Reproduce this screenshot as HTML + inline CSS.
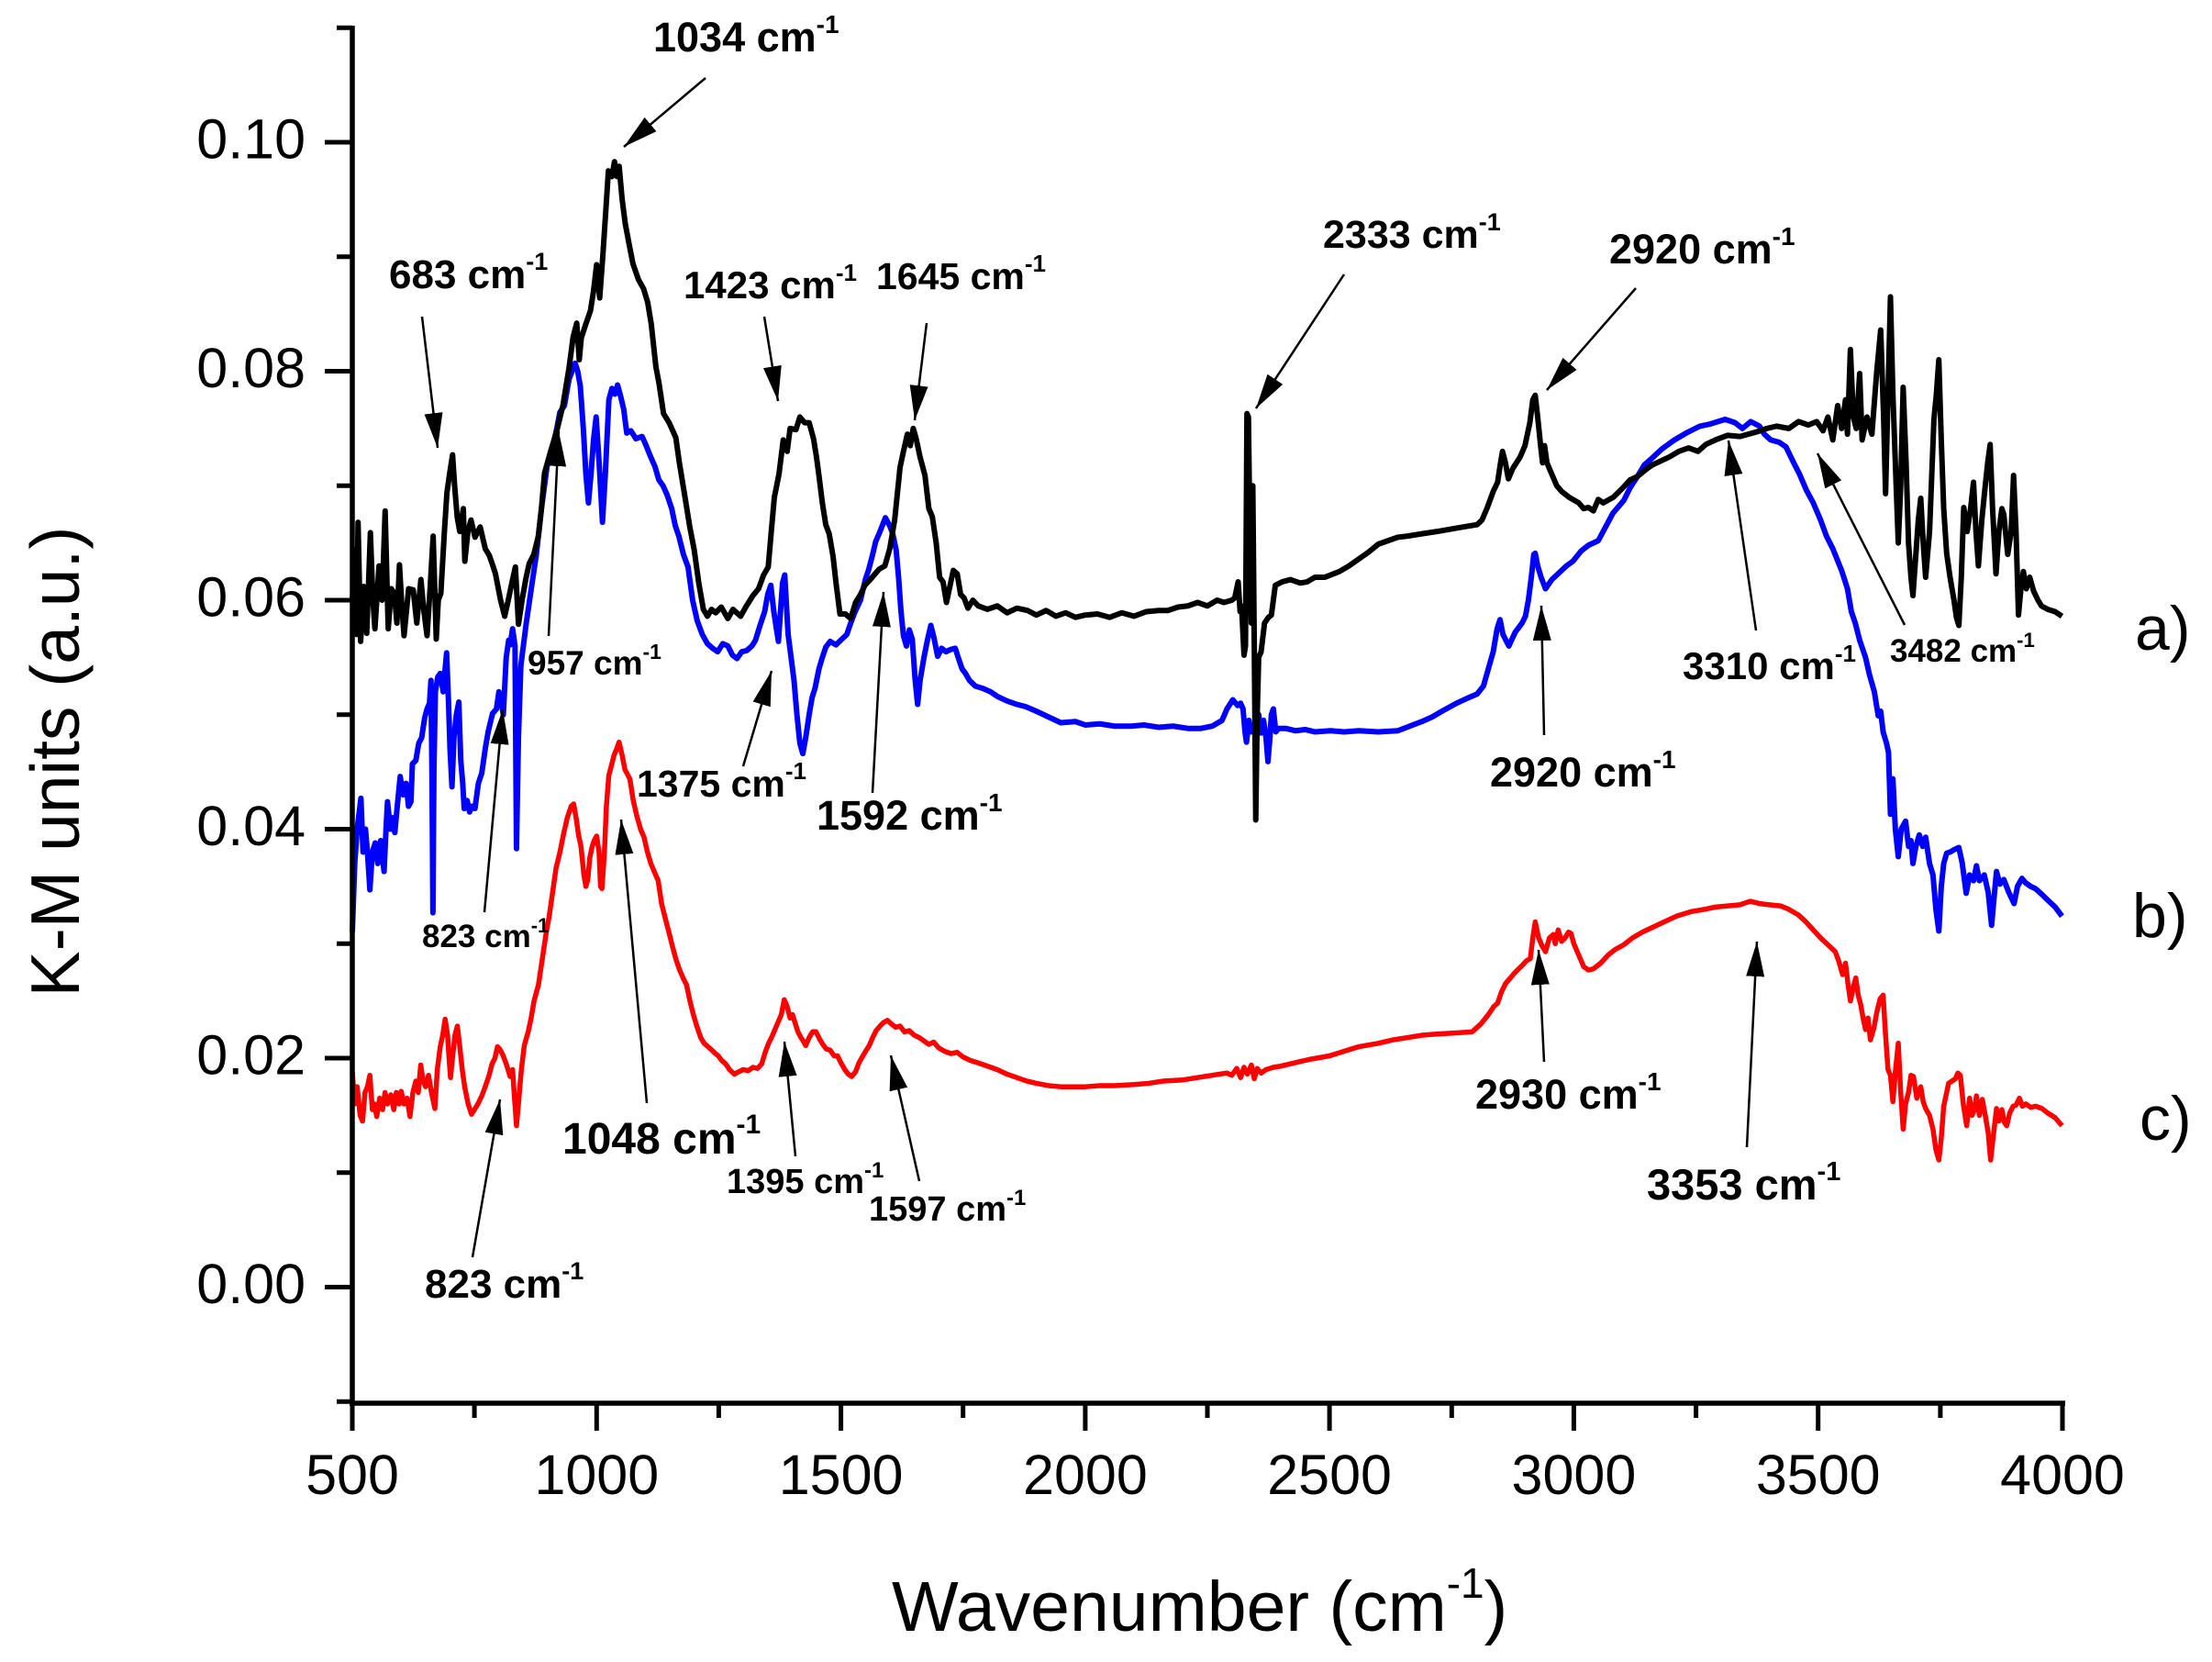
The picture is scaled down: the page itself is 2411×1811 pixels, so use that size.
<!DOCTYPE html>
<html><head><meta charset="utf-8"><style>
html,body{margin:0;padding:0;background:#fff;}
svg{display:block;}
text{font-family:"Liberation Sans",Arial,sans-serif;fill:#000;}
.b{font-weight:bold;}
</style></head><body>
<svg width="2411" height="1811" viewBox="0 0 2411 1811" xmlns="http://www.w3.org/2000/svg">
<defs>
<marker id="ah" markerUnits="userSpaceOnUse" markerWidth="40" markerHeight="20" refX="38" refY="10" orient="auto"><path d="M0,0 L38,10 L0,20 z" fill="#000"/></marker>
</defs>
<rect width="2411" height="1811" fill="#fff"/>

<!-- curves -->
<g transform="matrix(0.532571 0 0 -12.475 117.71 1402.5)" fill="none" stroke-linejoin="round">
<polyline vector-effect="non-scaling-stroke" stroke="#0000ff" stroke-width="6" points="500,31 505,37 510,40 517.6,42.7 522,38 527,40 531,38 536,34.7 541,38 547,38.8 552,37 558,39 565,36.3 569,40 572,42.4 578,40 582,41 587,39.7 592,42 598,44.6 604,43 610,44 615,42 620,42.4 623,45.7 630,46 636,47.5 642,48 648,49.7 653,50.5 658,51 661,53 663,45 665,32.7 667,45 670,52 675,53.3 680,53.6 686,52 690,54 693,55.4 697,51 700,47 704,43.7 708,48 713,50 718,51.1 722,46 726,44 729,41.8 735,42.5 740,41.5 745,42 751,41.8 758,44 765,44.9 772,47 778,48.5 787,50.1 795,50.5 800,52 805,51 809,50 815,55 820,56.5 823,56.1 828,57.5 833,56 836,38.3 840,48 845,54.3 856,58 867.3,61.3 876.7,64 887.1,68 898.6,71.7 908,73 918.5,75 924.7,76.4 934.1,77 943.6,79.3 949.8,80 956.1,80.7 961.3,80 966.6,78.7 972.8,75 978.1,71 983.3,68.5 988.5,71 993.7,74 999,76 1005.2,72 1012,66.8 1017.8,71 1025.1,77.5 1031.4,78.5 1037.6,78 1042.9,78.8 1049.2,77.8 1055.4,76.7 1061.7,74.6 1070.1,74.8 1080.5,74.1 1093.1,74.3 1101.4,73.5 1110.8,72.5 1119.2,71.7 1127.5,70.5 1135.9,70 1144.3,69.2 1153.7,68 1161,66.5 1168.3,65.6 1177.7,64 1187.1,62.9 1196.5,60 1205.9,58.2 1216.4,57 1226.8,56.2 1237.3,55.8 1247.8,55.5 1258.2,56.2 1268.6,56 1278,55.2 1287.4,54.9 1296.9,55.5 1307.3,55.6 1317.8,56 1325.1,56.5 1334.5,57.8 1343.9,59 1350.2,60.5 1356.5,61.3 1362.7,59 1368,57.5 1372.1,56.4 1376.3,59 1380.5,61.5 1385,62.2 1392,57 1398,55 1404,53 1410,50 1416,47.5 1422,46.6 1428,48 1435,50 1441,51.5 1447,52.3 1455,54 1462,55 1469,55.9 1478,56.4 1490,56.1 1502,56.6 1512,57 1520,58 1528,58.9 1540,60 1550,61.8 1557,62.7 1565,64 1571,65.1 1580,66 1591,67.2 1600,66.5 1606,65.8 1613,64.4 1618,62 1623,59 1628,56.9 1634,56 1640,57.4 1646,56.6 1652,53 1657,50.9 1662,53 1670,55 1677,56.5 1684,57.8 1690,56.8 1698,55.1 1706,55.8 1715,55.5 1725,55.7 1734,55.8 1740,55 1748,54 1755,53.6 1763,53 1775,52.5 1790,52.3 1806,52 1820,51.6 1840,51.2 1860,50.9 1878,50.7 1900,50.3 1920,49.9 1950,49.3 1980,49.4 2000,49.1 2030,49.2 2060,49 2094,49 2120,49.1 2150,48.9 2180,49 2210,48.8 2237,48.8 2260,49 2280,49.5 2290,50.5 2302,51.3 2312,50.8 2318,51 2323,50.5 2327,48.5 2330,47.6 2335,49.5 2340,48.5 2345,49 2350,47.5 2355,50 2360,48.4 2365,49.5 2370,48 2374,45.9 2378,48 2381,50 2385,50.5 2390,48.5 2396,48.8 2410,48.8 2430,48.6 2450,48.7 2470,48.5 2502,48.6 2530,48.5 2560,48.6 2600,48.5 2640,48.6 2689,49.4 2710,49.8 2730,50.3 2760,51 2780,51.4 2802,51.8 2815,52.5 2825,54 2835,55.5 2843,57.5 2849,58.3 2855,57 2861,56.5 2867,56 2880,57.2 2894,58 2901,58.6 2907,60 2913,62 2918,64 2921,64.1 2926,63 2933,62 2942,61 2955,61.8 2970,62.4 2985,63 2998,63.4 3015,64.3 3030,64.8 3050,65.2 3065,66.4 3080,67.6 3102,68.7 3115,69.8 3130,70.8 3144,71.8 3160,72.4 3180,73.2 3206,74 3230,74.6 3258,75.2 3280,75.4 3310,75.8 3330,75.5 3345,75 3362,75.6 3380,75.2 3390,74.5 3403,74 3420,73.8 3434,73.4 3450,72 3462,71 3476,69.6 3490,68.5 3505,67 3517,65.6 3530,64.5 3548,62.6 3560,61 3568,59 3576,58 3585,56.5 3597,55 3605,53.5 3615,52 3623,49.9 3628,50.3 3633,48.5 3640,47.5 3644,46.7 3648,41.3 3653,44.4 3658,40 3664,37.6 3670,40 3679,40.7 3685,38.5 3690,39 3694,37 3700,38.5 3707,39.5 3714,38.5 3720,39.3 3728,37 3735,36 3741,33 3747,31.1 3752,35 3757,37 3763,37.9 3770,38 3778,38.2 3788,38.4 3795,37 3803,34.4 3810,36 3818,35.5 3824,36.8 3830,35.5 3840,36 3848,34.5 3855,31.6 3860,34 3865,36.3 3872,35.2 3880,35.6 3890,34.5 3901,33.5 3908,35 3917,35.7 3925,35.3 3935,35 3945,34.8 3958,34.3 3970,33.8 3985,33.2 3999,32.4"/>
<polyline vector-effect="non-scaling-stroke" stroke="#000000" stroke-width="6" points="500.3,60 504.5,64.4 508.7,57 511.8,66.8 517.1,56.4 523.3,61.2 529.6,57.1 537,65.9 542.2,60 546.3,57.5 554.7,63 561,60 567.2,67.8 573.5,57.5 579.8,61 586,60.6 591.3,58 596.5,63.1 600.7,60 605.9,56.9 615.3,61 624.7,60.9 632,58 640.4,61.8 646.7,59 653,56.9 659.2,61 665.5,65.6 671.8,56.6 676,60 681.2,60.6 688.5,66 693.7,69.4 699,71 705.2,72.7 709.4,70 714.6,67.3 719.9,66 727.2,68 730.3,63.4 736.6,66 742.9,67 751.2,65.5 761.7,66.4 772.1,64.5 780.5,63.9 787.8,63 793,62.3 803.5,60 811.9,58.6 819.2,60 826.5,61.5 833.8,62.9 840.1,57.9 847.4,60 855.8,62 862.1,63.2 871.5,64 880.8,65.6 887.1,68 893.4,71.1 905.9,73 918.5,74.8 931,77 943.6,80.3 952,83 959.3,84.2 964.5,81 968.6,82.9 977,84 987.5,85.3 993.7,87 1000,89.3 1006.3,86.4 1012.6,90 1018.8,94 1024.1,97.5 1031.4,97 1036.6,98.3 1041.9,97 1046.1,97.9 1052.3,95 1058.6,92.9 1067,91 1074.3,89.4 1085.7,88 1096.2,87.2 1104.6,86 1111.9,84.1 1121.3,80.4 1127.5,79 1137,76.3 1148.5,75.5 1162.1,74.2 1169.4,72 1180.9,69 1190.3,66.5 1199.7,64.4 1209.1,61.5 1218.5,59.2 1226.8,58.6 1235.2,59.2 1243.6,58.9 1255.1,59.4 1268.6,58.4 1279.1,59.2 1294.8,58.6 1305.2,59.4 1319.9,60.4 1331.4,61 1341.8,62.2 1351.2,62.9 1357.5,66 1363.8,69 1373.2,71 1382,74 1390,73 1396,75 1408,74.9 1416,76 1426,75.5 1435,75.5 1444,74.1 1450,72.5 1455,70.9 1462,68.5 1469,66.6 1476,65.8 1484,63.8 1490,61.5 1498,58.8 1509,58.8 1520,58.4 1530,59.8 1540,60.5 1549,61.3 1560,61.8 1578,62.7 1590,63 1600,64.5 1610,67 1621,71.6 1628,73 1636,74.5 1642,73.5 1648,75 1654,74.1 1662,72.5 1672,70.9 1680,68 1687,67.3 1695,65 1702,62 1709,61.6 1716,59.8 1722,61 1730,62.6 1738,62.3 1745,60.5 1752,60.2 1760,59.3 1770,60 1781,59.5 1800,59.2 1820,59.5 1840,58.9 1860,59.3 1882,59.1 1900,58.7 1920,59.1 1940,58.6 1960,58.9 1980,58.5 2000,58.7 2025,58.8 2050,58.5 2075,58.9 2100,58.6 2125,59 2150,59.1 2169,59.1 2190,59.4 2210,59.5 2230,59.8 2250,59.5 2270,60 2284,59.8 2300,60 2306,60.2 2313,61.6 2317,59 2320,59.5 2325,55.2 2328,56 2331,76.3 2334,76 2337,66 2340,58 2343,70 2346,56 2349,40.8 2352,50 2355,55 2360,55.5 2367,58 2375,58.5 2381,58.7 2389,61.3 2403,61.6 2420,61.8 2440,61.5 2454,61.6 2470,62 2490,62 2502,62.2 2520,62.5 2540,63 2560,63.6 2580,64.2 2600,64.9 2620,65.2 2640,65.5 2660,65.6 2689,65.8 2720,66 2760,66.3 2802,66.6 2812,67 2823,68.1 2835,69.5 2844,70.3 2850,72 2854,73 2860,72 2866,70.6 2875,71.5 2890,72.5 2900,73.5 2910,75.5 2916,77.5 2921,77.9 2926,76 2932,73.5 2936,72 2940,73.5 2945,72 2955,71 2965,70 2975,69.5 2990,69 3010,68.5 3020,68 3030,68.1 3040,67.8 3050,68.8 3060,68.5 3081,69 3100,69.8 3115,70.5 3130,70.8 3147,71.4 3160,71.8 3180,72.2 3195,72.5 3215,73 3235,73.3 3254,73 3270,73.6 3290,74 3315,74.4 3340,74.3 3374,74.7 3395,75 3415,75.2 3440,75 3460,75.6 3480,75.3 3497,75.6 3510,74.8 3520,76 3530,74 3540,77 3548,75 3556,77.5 3560,74.5 3566,81.9 3572,76 3578,75 3585,79.8 3590,74 3600,76 3610,74.5 3620,80 3628,83.6 3634,76 3638,69.3 3643,78 3648,86.5 3653,78 3658,72 3664,65 3669,70 3674,78.6 3680,72 3685,65 3690,62 3694,60.4 3700,64 3705,67 3710,68.9 3715,65 3720,62 3728,66 3737,75.8 3742,78 3747,81 3752,74 3757,68 3763,64.1 3770,62 3778,60 3783,58.5 3788,57.8 3793,62 3798,68.1 3805,66 3812,68 3818,70.3 3823,66 3828,63 3835,67 3842,70 3847,72 3852,73.6 3857,68 3864,62.3 3870,66 3876,68 3880,67.5 3888,64 3895,66 3900,70.9 3905,66 3910,58.7 3915,61 3920,62.5 3926,61 3933,62 3941,60.8 3950,60 3957,59.5 3970,59.2 3985,59 3999,58.6"/>
<polyline vector-effect="non-scaling-stroke" stroke="#ff0000" stroke-width="5.5" points="500,18.8 505,16 510,17.5 516,15 521,14.5 526,17 531,17.5 536,18.5 541,15.5 545,16 550,14.9 556,16.5 562,15.5 567,17 572,16 579,16.8 585,15.5 590,17 596,16 600,17.1 606,16 612,16.5 618,14.9 624,17 630,18 635,17 640,19.4 645,18 650,17.5 656,18.5 662,17 669,15.6 674,19 680,21 685,22 690,23.4 695,22 698,20 701,18.3 705,20 710,22 715,22.8 720,21 725,19 730,17.5 737,16 744,15.1 750,15.5 757,16 765,16.7 772,17.5 780,18.5 786,19.5 792,20 797,21 801.6,20.8 808,20.3 815,19.5 823,18.4 828,19 832,16.5 836,14.1 840,16 846,19 852,21.1 860,22.3 866,23.5 872,25 881,26.4 890,29 897,31 903,32.4 910,34.5 917,36.6 925,38 932,39.5 940,41 948,42 953,42.2 958,41 963,39.5 968,38.5 974,36 978,35 982,35.6 986,37.5 991,38.5 995,39 1000,39.4 1005,38 1008,35 1011,34.8 1016,38 1020,42 1025,44.7 1030,45.5 1036,46.5 1041,47 1046,47.6 1052,46.5 1058,45.2 1063,44.8 1068,44.4 1075,42.5 1082,41.2 1090,40 1097,39.3 1104,38 1111,37 1118,36.3 1126,35.5 1133,33.5 1140,32.3 1148,31 1155,29.8 1162,28.7 1169,27.8 1177,27 1184,26.4 1191,25 1198,23.8 1205,22.8 1213,21.8 1220,21.3 1228,21 1236,20.7 1243,20.4 1249,20.2 1256,19.8 1264,19.5 1272,19 1282,18.6 1290,18.8 1300,19 1310,18.9 1320,19.2 1329,19.1 1338,19.5 1345,20.5 1352,21.3 1358,21.8 1365,22.5 1372,23.2 1378,23.8 1384,25.1 1390,24.5 1396,23.5 1401,23.8 1406,23.1 1412,22.3 1418,21.8 1423,21.5 1428,21.1 1435,21.8 1442,22.3 1449,22.3 1456,21.7 1463,21.2 1470,20.8 1478,20.7 1486,20.2 1493,20.2 1500,19.6 1508,19 1515,18.6 1522,18.4 1530,18.8 1537,19.6 1545,20.2 1552,20.7 1558,21.1 1565,21.8 1572,22.4 1580,22.8 1587,23.1 1595,23.3 1603,23 1612,22.7 1621,22.8 1630,22.3 1640,22.4 1650,22 1660,21.8 1670,21.5 1680,21.2 1690,21.4 1700,20.9 1712,20.6 1725,20.4 1738,20.5 1750,20.1 1765,19.8 1780,19.6 1800,19.3 1820,19 1840,18.6 1860,18.3 1880,18 1900,17.8 1925,17.6 1950,17.5 1975,17.5 2000,17.5 2030,17.6 2060,17.6 2100,17.7 2130,17.8 2160,18 2200,18.1 2230,18.3 2260,18.5 2290,18.7 2300,18.5 2310,19.1 2318,18.3 2325,19.2 2332,18.6 2340,19.4 2346,18.2 2352,19.1 2360,18.7 2370,19 2385,19.2 2400,19.3 2430,19.6 2460,19.9 2500,20.2 2530,20.6 2560,21 2600,21.3 2630,21.6 2660,21.8 2689,22 2720,22.1 2760,22.2 2792,22.3 2810,23 2825,23.8 2836,24.5 2844,24.8 2852,25.8 2860,26.5 2870,27 2880,27.5 2892,28 2903,28.5 2911,28.7 2916,30.5 2921,31.9 2928,30.5 2935,29.8 2942,29.3 2950,30.5 2958,30.8 2962,30 2968,31.2 2975,30.2 2982,30.5 2989,31 2994,30.9 3000,30 3010,29 3020,28 3030,27.7 3040,27.8 3055,28.3 3070,29 3085,29.5 3102,29.9 3120,30.5 3140,31 3160,31.4 3185,31.9 3210,32.4 3240,32.8 3268,33 3290,33.2 3315,33.3 3340,33.4 3361,33.7 3380,33.5 3400,33.4 3423,33.3 3440,33 3460,32.5 3475,31.9 3490,31.2 3505,30.5 3520,29.9 3535,29.3 3542,28.5 3550,27.3 3556,28.3 3561,26.5 3566,25 3572,26.2 3577,27 3582,25.5 3587,24.7 3592,23.5 3597,22.5 3602,23.5 3607,21.6 3614,22.6 3620,24 3627,25.2 3633,25.5 3638,22 3643,19 3648,18.5 3653,16.2 3658,18.8 3664,21.3 3669,17 3674,13.8 3679,16 3685,17 3690,18.5 3695,18.4 3702,16.5 3710,17.5 3715,16.2 3720,15.6 3728,15 3735,13.8 3741,12 3747,11.1 3752,13 3757,15.8 3763,17 3767,17.8 3774,18 3781,18.2 3786,18.7 3791,18.5 3797,16 3804,14.1 3810,16.5 3815,15 3820,15.5 3824,16.7 3830,15 3836,16.4 3842,15 3848,13.5 3853,11.1 3858,13 3865,15.6 3870,14.5 3876,15.5 3881,14.4 3886,14.1 3892,15.2 3899,15.8 3905,15.9 3912,16.5 3918,15.8 3925,16 3935,15.7 3945,15.8 3958,15.6 3970,15.2 3985,14.8 3999,14.1"/>
</g>

<!-- axes -->
<g stroke="#000" stroke-width="5.5" fill="none">
<line x1="384" y1="28" x2="384" y2="1532"/>
<line x1="381" y1="1529" x2="2251" y2="1529"/>
</g>
<g stroke="#000" stroke-width="5">
<line x1="354" y1="1402.5" x2="384" y2="1402.5"/>
<line x1="354" y1="1153" x2="384" y2="1153"/>
<line x1="354" y1="903.5" x2="384" y2="903.5"/>
<line x1="354" y1="654" x2="384" y2="654"/>
<line x1="354" y1="404.5" x2="384" y2="404.5"/>
<line x1="354" y1="155" x2="384" y2="155"/>
<line x1="367" y1="1527.2" x2="384" y2="1527.2"/>
<line x1="367" y1="1277.7" x2="384" y2="1277.7"/>
<line x1="367" y1="1028.2" x2="384" y2="1028.2"/>
<line x1="367" y1="778.7" x2="384" y2="778.7"/>
<line x1="367" y1="529.2" x2="384" y2="529.2"/>
<line x1="367" y1="279.7" x2="384" y2="279.7"/>
<line x1="367" y1="30.3" x2="384" y2="30.3"/>
<line x1="384" y1="1529" x2="384" y2="1559"/>
<line x1="650.3" y1="1529" x2="650.3" y2="1559"/>
<line x1="916.6" y1="1529" x2="916.6" y2="1559"/>
<line x1="1182.9" y1="1529" x2="1182.9" y2="1559"/>
<line x1="1449.1" y1="1529" x2="1449.1" y2="1559"/>
<line x1="1715.4" y1="1529" x2="1715.4" y2="1559"/>
<line x1="1981.7" y1="1529" x2="1981.7" y2="1559"/>
<line x1="2248" y1="1529" x2="2248" y2="1559"/>
<line x1="517.1" y1="1529" x2="517.1" y2="1545"/>
<line x1="783.4" y1="1529" x2="783.4" y2="1545"/>
<line x1="1049.7" y1="1529" x2="1049.7" y2="1545"/>
<line x1="1316" y1="1529" x2="1316" y2="1545"/>
<line x1="1582.3" y1="1529" x2="1582.3" y2="1545"/>
<line x1="1848.6" y1="1529" x2="1848.6" y2="1545"/>
<line x1="2114.9" y1="1529" x2="2114.9" y2="1545"/>
</g>

<!-- tick labels -->
<g font-size="61" text-anchor="end">
<text x="333" y="1420">0.00</text>
<text x="333" y="1170.5">0.02</text>
<text x="333" y="921">0.04</text>
<text x="333" y="671.5">0.06</text>
<text x="333" y="422">0.08</text>
<text x="333" y="172.5">0.10</text>
</g>
<g font-size="61" text-anchor="middle">
<text x="384" y="1628">500</text>
<text x="650.3" y="1628">1000</text>
<text x="916.6" y="1628">1500</text>
<text x="1182.9" y="1628">2000</text>
<text x="1449.1" y="1628">2500</text>
<text x="1715.4" y="1628">3000</text>
<text x="1981.7" y="1628">3500</text>
<text x="2248" y="1628">4000</text>
</g>

<!-- axis titles -->
<text x="972" y="1777" font-size="77">Wavenumber (cm<tspan font-size="46" dy="-36">-1</tspan><tspan dy="36">)</tspan></text>
<text transform="translate(86,830) rotate(-90)" font-size="75" text-anchor="middle">K-M units (a.u.)</text>

<!-- arrows -->
<g stroke="#000" stroke-width="2.5" marker-end="url(#ah)">
<line x1="769" y1="85" x2="680" y2="160"/>
<line x1="460" y1="345" x2="477" y2="488"/>
<line x1="833" y1="345" x2="848" y2="437"/>
<line x1="1010" y1="352" x2="997" y2="458"/>
<line x1="1465" y1="299" x2="1369" y2="445"/>
<line x1="1783" y1="314" x2="1686" y2="425"/>
<line x1="598" y1="693" x2="609" y2="470"/>
<line x1="810" y1="835" x2="841" y2="731"/>
<line x1="951" y1="864" x2="963" y2="645"/>
<line x1="528" y1="994" x2="548" y2="773"/>
<line x1="1683" y1="801" x2="1680" y2="660"/>
<line x1="1914" y1="687" x2="1884" y2="480"/>
<line x1="2076" y1="681" x2="1981" y2="494"/>
<line x1="705" y1="1202" x2="677" y2="893"/>
<line x1="867" y1="1260" x2="855" y2="1135"/>
<line x1="1002" y1="1287" x2="971" y2="1150"/>
<line x1="515" y1="1370" x2="545" y2="1198"/>
<line x1="1683" y1="1157" x2="1677" y2="1035"/>
<line x1="1904" y1="1250" x2="1915" y2="1026"/>
</g>

<!-- annotation labels -->
<g class="b">
<text class="b" x="712" y="56" font-size="45">1034 cm<tspan font-size="28" dy="-20">-1</tspan></text>
<text class="b" x="424" y="314" font-size="44">683 cm<tspan font-size="27" dy="-20">-1</tspan></text>
<text class="b" x="745" y="325" font-size="42">1423 cm<tspan font-size="26" dy="-19">-1</tspan></text>
<text class="b" x="955" y="315" font-size="41">1645 cm<tspan font-size="26" dy="-19">-1</tspan></text>
<text class="b" x="1442" y="270" font-size="43">2333 cm<tspan font-size="27" dy="-19">-1</tspan></text>
<text class="b" x="1754" y="287" font-size="45">2920 cm<tspan font-size="28" dy="-20">-1</tspan></text>
<text class="b" x="575" y="735" font-size="37">957 cm<tspan font-size="23" dy="-17">-1</tspan></text>
<text class="b" x="694" y="868" font-size="41">1375 cm<tspan font-size="26" dy="-19">-1</tspan></text>
<text class="b" x="890" y="904" font-size="45">1592 cm<tspan font-size="28" dy="-20">-1</tspan></text>
<text class="b" x="460" y="1032" font-size="35">823 cm<tspan font-size="22" dy="-16">-1</tspan></text>
<text class="b" x="1624" y="857" font-size="45">2920 cm<tspan font-size="28" dy="-20">-1</tspan></text>
<text class="b" x="1834" y="740" font-size="42">3310 cm<tspan font-size="26" dy="-19">-1</tspan></text>
<text class="b" x="2060" y="721" font-size="35">3482 cm<tspan font-size="22" dy="-16">-1</tspan></text>
<text class="b" x="613" y="1257" font-size="48">1048 cm<tspan font-size="30" dy="-22">-1</tspan></text>
<text class="b" x="792" y="1300" font-size="38">1395 cm<tspan font-size="24" dy="-17">-1</tspan></text>
<text class="b" x="947" y="1330" font-size="38">1597 cm<tspan font-size="24" dy="-17">-1</tspan></text>
<text class="b" x="463" y="1414" font-size="44">823 cm<tspan font-size="27" dy="-20">-1</tspan></text>
<text class="b" x="1608" y="1208" font-size="45">2930 cm<tspan font-size="28" dy="-20">-1</tspan></text>
<text class="b" x="1795" y="1307" font-size="47">3353 cm<tspan font-size="29" dy="-21">-1</tspan></text>
</g>
<text x="2327" y="708" font-size="68">a)</text>
<text x="2324" y="1021" font-size="68">b)</text>
<text x="2332" y="1242" font-size="68">c)</text>
</svg>
</body></html>
